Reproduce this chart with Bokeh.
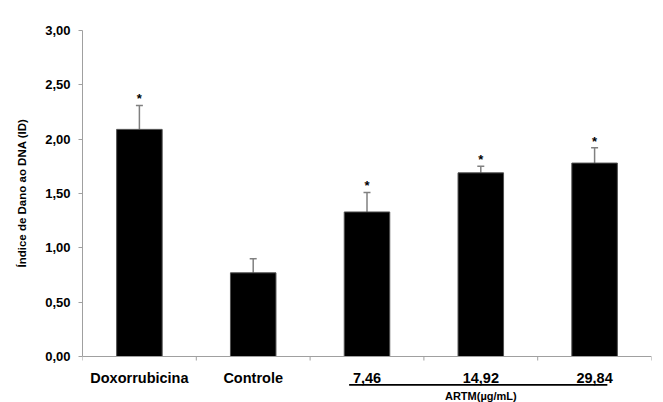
import numpy as np
from bokeh.plotting import figure
from bokeh.models import (ColumnDataSource, FixedTicker, Whisker, TeeHead, Range1d,
                          LinearAxis, Title)
from bokeh.core.properties import value
from bokeh.embed import file_html
from bokeh.resources import INLINE

# ---- data ----
categories = ["Doxorrubicina", "Controle", "7,46", "14,92", "29,84"]
means = [2.09, 0.77, 1.33, 1.69, 1.78]
errors = [0.22, 0.13, 0.18, 0.06, 0.14]
significant = [True, False, True, True, True]
y_ticks = [0.0, 0.5, 1.0, 1.5, 2.0, 2.5, 3.0]
y_tick_labels = ["0,00", "0,50", "1,00", "1,50", "2,00", "2,50", "3,00"]
y_title = "Índice de Dano ao DNA (ID)"
group_label = "ARTM(µg/mL)"
group_members = ["7,46", "14,92", "29,84"]

x = np.arange(len(categories)) + 0.5
tops = [m + e for m, e in zip(means, errors)]
src = ColumnDataSource(dict(x=x, top=means, upper=tops, cat=categories))

FONT = "Liberation Sans"
AXIS_GRAY = "#a0a0a0"
Y_BOTTOM = -0.4233  # frame extends below zero to hold the category labels

p = figure(width=663, height=402, output_backend="svg", toolbar_location=None,
           x_range=Range1d(0, len(categories)), y_range=Range1d(Y_BOTTOM, 3.0),
           min_border_left=82, min_border_right=12, min_border_top=30,
           min_border_bottom=0, x_axis_location=None, y_axis_location=None)
p.outline_line_color = None
p.xgrid.visible = False
p.ygrid.visible = False
p.background_fill_color = "white"
p.border_fill_color = "white"

# bars
p.vbar(x="x", top="top", bottom=0, width=0.4, source=src,
       fill_color="black", line_color="#505050", line_width=1)

# error bars (upper only)
w = Whisker(base="x", lower="top", upper="upper", source=src,
            line_color="#808080", line_width=1.5,
            upper_head=TeeHead(size=7, line_color="#808080", line_width=1.5),
            lower_head=None)
p.add_layout(w)

# significance stars
sx = [xi for xi, s in zip(x, significant) if s]
sy = [t for t, s in zip(tops, significant) if s]
p.text(x=sx, y=sy, text=["*"] * len(sx), text_align="center",
       text_baseline="bottom", text_font=value(FONT), text_font_style="bold",
       text_font_size="13px", text_color="black", y_offset=1)

# y axis
yax = LinearAxis(ticker=FixedTicker(ticks=y_ticks, minor_ticks=[]), bounds=(0, 3.0))
yax.major_label_overrides = {t: l for t, l in zip(y_ticks, y_tick_labels)}
yax.axis_line_color = AXIS_GRAY
yax.major_tick_line_color = AXIS_GRAY
yax.major_tick_out = 4
yax.major_tick_in = 0
yax.major_label_standoff = 8
yax.major_label_text_font = FONT
yax.major_label_text_font_style = "bold"
yax.major_label_text_font_size = "13px"
yax.major_label_text_color = "black"
p.add_layout(yax, "left")

# y title as a left-side title, starting above the category-label band
p.add_layout(Title(text=y_title, align="left", offset=135, vertical_align="middle",
                   standoff=28, text_font=FONT, text_font_style="bold",
                   text_font_size="11.5px", text_color="black"), "left")

# x axis drawn at y = 0: line, boundary ticks, category labels
bounds = np.arange(len(categories) + 1).astype(float)
p.segment(x0=[bounds[0]], x1=[bounds[-1]], y0=[0], y1=[0],
          line_color=AXIS_GRAY, line_width=1)
p.ray(x=bounds, y=np.zeros_like(bounds), length=4, length_units="screen",
      angle=-np.pi / 2, line_color=AXIS_GRAY, line_width=1)
p.text(x=x, y=np.zeros_like(x), text=categories, text_align="center",
       text_baseline="middle", y_offset=21, text_font=value(FONT),
       text_font_style="bold", text_font_size="14.5px", text_color="black")

# group underline and label
gx = [x[categories.index(c)] for c in group_members]
line_start = gx[0] - 0.157
line_end = gx[-1] + 0.112
p.segment(x0=[line_start], x1=[line_end], y0=[-0.262], y1=[-0.262],
          line_color="black", line_width=1.8)
p.text(x=[float(np.mean(gx))], y=[0], text=[group_label], text_align="center",
       text_baseline="alphabetic", y_offset=39, text_font=value(FONT),
       text_font_style="bold", text_font_size="11px", text_color="black")

open("out.html", "w").write(file_html(p, INLINE))
